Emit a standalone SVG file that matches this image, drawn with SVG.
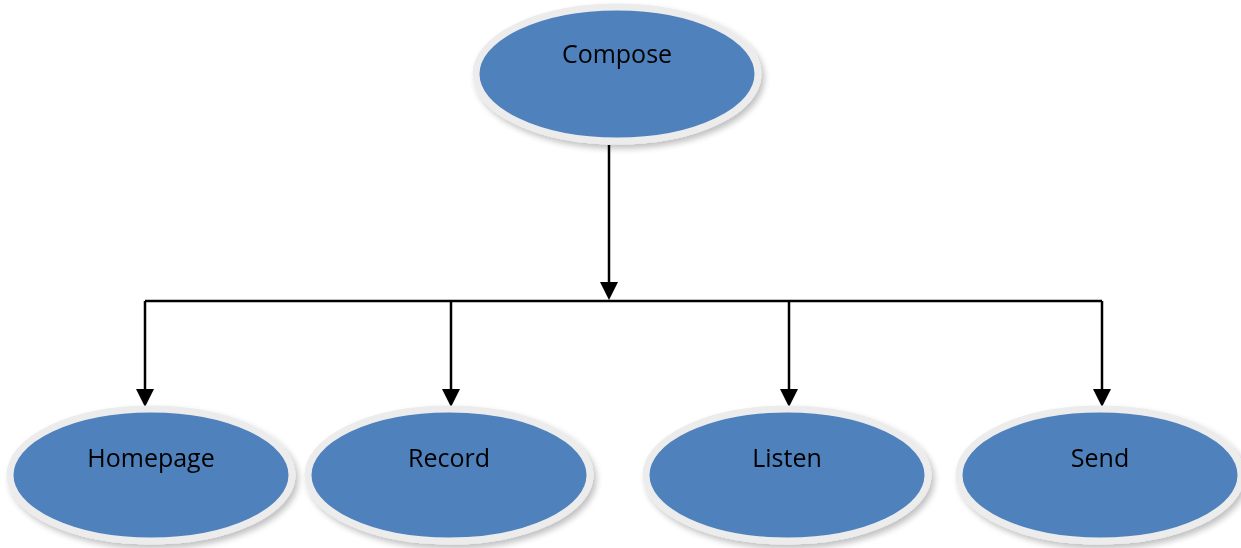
<svg xmlns="http://www.w3.org/2000/svg" width="1241" height="548" viewBox="0 0 1241 548">
<style>
.n{fill:#4f81bd;stroke:#ececec;stroke-width:7}
.t{font-family:"Open Sans","Liberation Sans",sans-serif;font-size:25px;fill:#000;text-anchor:middle}
.c{stroke:#000;stroke-width:2.5;fill:none}
.h{fill:#000}
</style>
<defs>
<filter id="s" x="-10%" y="-10%" width="125%" height="130%">
<feGaussianBlur in="SourceAlpha" stdDeviation="3"/>
<feOffset dx="3" dy="4"/>
<feComponentTransfer><feFuncA type="linear" slope="0.25"/></feComponentTransfer>
<feMerge><feMergeNode/><feMergeNode in="SourceGraphic"/></feMerge>
</filter>
</defs>
<rect width="1241" height="548" fill="#fff"/>
<g id="connectors">
<path class="c" d="M609,145 V290"/>
<path class="h" d="M600,282 L618,282 L609,300 Z"/>
<path class="c" d="M145,301 H1102"/>
<path class="c" d="M145,301 V395"/>
<path class="h" d="M136,389 L154,389 L145,407 Z"/>
<path class="c" d="M451,301 V395"/>
<path class="h" d="M442,389 L460,389 L451,407 Z"/>
<path class="c" d="M789,301 V395"/>
<path class="h" d="M780,389 L798,389 L789,407 Z"/>
<path class="c" d="M1102,301 V395"/>
<path class="h" d="M1093,389 L1111,389 L1102,407 Z"/>
</g>
<g id="compose" filter="url(#s)">
<ellipse class="n" cx="617" cy="74" rx="141" ry="67"/>
<text class="t" x="617" y="63">Compose</text>
</g>
<g id="homepage" filter="url(#s)">
<ellipse class="n" cx="151" cy="475" rx="141" ry="66"/>
<text class="t" x="151" y="467">Homepage</text>
</g>
<g id="record" filter="url(#s)">
<ellipse class="n" cx="449" cy="475" rx="141" ry="66"/>
<text class="t" x="449" y="467">Record</text>
</g>
<g id="listen" filter="url(#s)">
<ellipse class="n" cx="787" cy="475" rx="141" ry="66"/>
<text class="t" x="787" y="467">Listen</text>
</g>
<g id="send" filter="url(#s)">
<ellipse class="n" cx="1100" cy="475" rx="141" ry="66"/>
<text class="t" x="1100" y="467">Send</text>
</g>
</svg>
